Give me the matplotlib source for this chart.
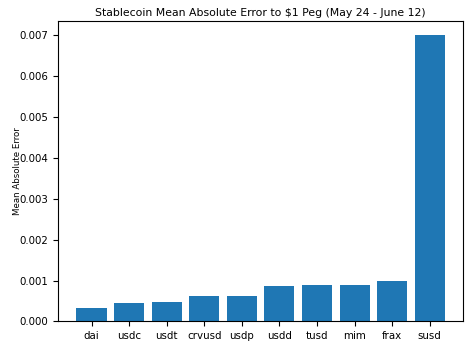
import matplotlib
matplotlib.use("Agg")
import matplotlib.pyplot as plt

coins = ["dai", "usdc", "usdt", "crvusd", "usdp", "usdd", "tusd", "mim", "frax", "susd"]
mae = [0.00033, 0.00044, 0.00047, 0.00062, 0.00062, 0.00087, 0.00089, 0.00090, 0.00099, 0.00700]

plt.rcParams["font.size"] = 7.4

fig, ax = plt.subplots(figsize=(4.76, 3.42), dpi=100)
fig.subplots_adjust(left=0.122, right=0.973, top=0.94, bottom=0.06)

ax.bar(coins, mae, color="#1f77b4")
ax.set_ylabel("Mean Absolute Error", fontsize=6.2, labelpad=-2)
ax.set_title("Stablecoin Mean Absolute Error to $1 Peg (May 24 - June 12)", fontsize=7.8, pad=3.6)

fig.savefig("out.png")
